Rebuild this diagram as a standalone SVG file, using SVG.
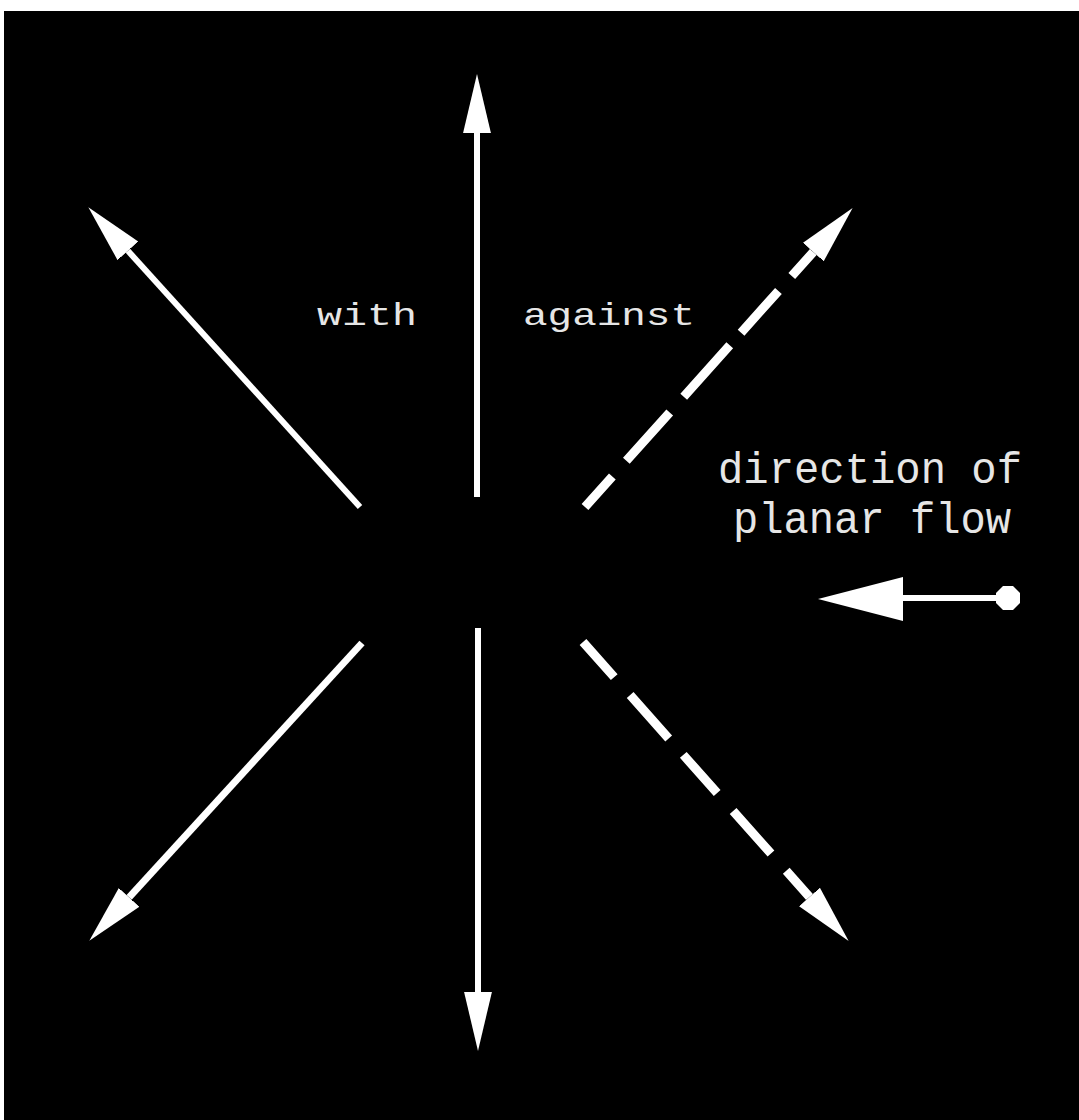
<svg xmlns="http://www.w3.org/2000/svg" width="1079" height="1120" viewBox="0 0 1079 1120">
  <style>
    .ln { stroke: #ffffff; fill: none; stroke-linecap: butt; }
    .solid { stroke-width: 6; }
    .dash { stroke-width: 9; }
    .lbl { font-family: "Liberation Mono", "DejaVu Sans Mono", monospace; fill: #e6e6e6; }
  </style>
  <defs>
    <marker id="head" markerUnits="userSpaceOnUse" markerWidth="60" markerHeight="30" viewBox="0 -14 56 28" refX="0" refY="0" orient="auto">
      <path d="M0,-13 L55,0 L0,13 z" fill="#ffffff"/>
    </marker>
  </defs>
  <rect x="0" y="0" width="1079" height="1120" fill="#ffffff"/>
  <rect x="4" y="11" width="1075" height="1109" fill="#000000"/>

  <g id="connectors">
    <line class="ln solid" x1="477" y1="497" x2="477" y2="133" marker-end="url(#head)"/>
    <line class="ln solid" x1="478" y1="628" x2="478" y2="992" marker-end="url(#head)"/>
    <line class="ln solid" x1="360" y1="507" x2="127.9" y2="250.8" marker-end="url(#head)"/>
    <line class="ln solid" x1="362" y1="643" x2="129.1" y2="897.4" style="stroke-width:7" marker-end="url(#head)"/>
    <line class="ln dash" x1="585" y1="507" x2="813.3" y2="252" stroke-dasharray="41 21 65 21 69 17 56 20 400" marker-end="url(#head)"/>
    <line class="ln dash" x1="583" y1="642" x2="809.5" y2="896.9" stroke-dasharray="47 24 58 22 51 24 57 23 400" marker-end="url(#head)"/>
  </g>

  <g id="label-with">
    <text class="lbl" x="317" y="325" font-size="32" textLength="100" lengthAdjust="spacingAndGlyphs">with</text>
  </g>
  <g id="label-against">
    <text class="lbl" x="523" y="325" font-size="32" textLength="172" lengthAdjust="spacingAndGlyphs">against</text>
  </g>
  <g id="label-flow">
    <text class="lbl" x="718" y="483" font-size="44" textLength="304" lengthAdjust="spacingAndGlyphs">direction of</text>
    <text class="lbl" x="733" y="533" font-size="44" textLength="278" lengthAdjust="spacingAndGlyphs">planar flow</text>
  </g>
  <g id="flow-arrow">
    <line class="ln solid" x1="900" y1="598" x2="998" y2="598"/>
    <polygon points="818,599 903,577 903,621" fill="#ffffff"/>
    <polygon points="1003,586 1013,586 1020,593 1020,603 1013,610 1003,610 996,603 996,593" fill="#ffffff"/>
  </g>
</svg>
